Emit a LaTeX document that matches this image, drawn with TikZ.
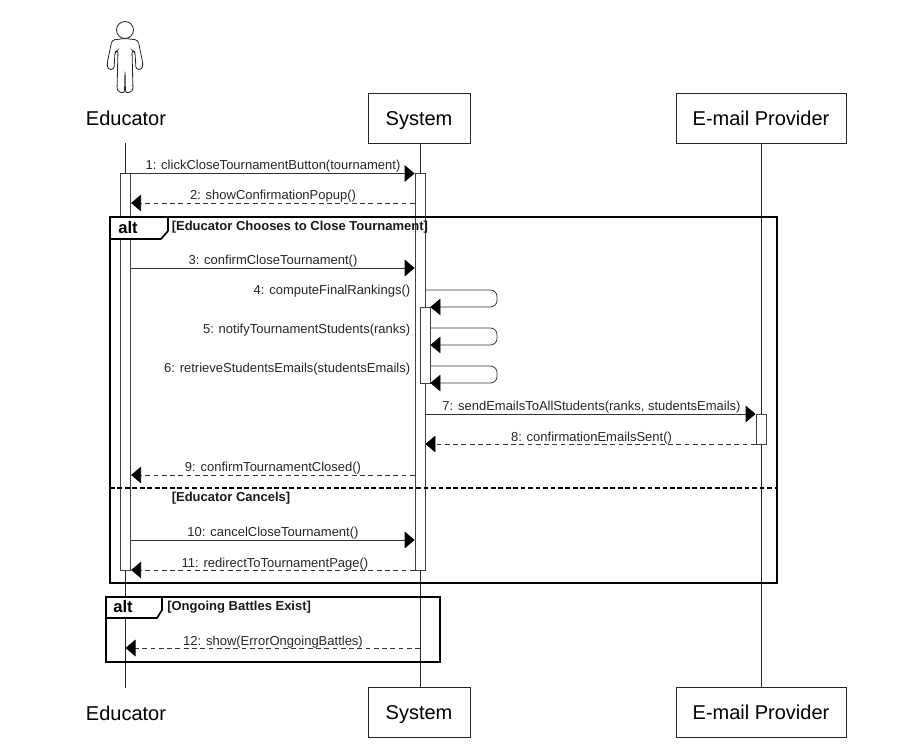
\documentclass[tikz,border=0pt]{standalone}
\usepackage{fontspec}
\setmainfont{Liberation Sans}
\usetikzlibrary{arrows.meta}
\tikzset{
 x=0.75pt,y=-0.75pt,
 actorbox/.style={draw=black!85,line width=0.6pt,fill=white,minimum width=76.5pt,minimum height=37pt,inner sep=0pt,text height=10.8pt,text depth=1pt,font=\fontsize{15}{17}\selectfont},
 actorbare/.style={inner sep=0pt,font=\fontsize{15}{17}\selectfont},
 life/.style={draw=black!85,line width=0.6pt},
 activation/.style={draw=black!75,line width=0.6pt,fill=white,inner sep=0pt,minimum width=7.5pt},
 sync/.style={draw=black!80,line width=0.6pt,-{Triangle[length=7.5pt,width=12.5pt,color=black,fill=black]}},
 reply/.style={sync,dash pattern=on 3.6pt off 2.6pt},
 msg/.style={inner sep=0pt,font=\fontsize{9.75}{11}\selectfont,text=black!85,anchor=base},
 frame/.style={draw=black,line width=1.3pt},
 framedash/.style={draw=black,line width=1.3pt,dash pattern=on 3.6pt off 2pt},
 tabtext/.style={inner sep=0pt,font=\bfseries\fontsize{12.5}{14}\selectfont,anchor=base},
 guard/.style={inner sep=0pt,font=\bfseries\fontsize{9.75}{11}\selectfont,anchor=base west,text=black!90},
}
\begin{document}
\begin{tikzpicture}
\useasboundingbox (0,0) rectangle (898,748);
% coordinates
\coordinate (eduTop) at (125.5,143);
\coordinate (eduBot) at (125.5,688);
\coordinate (sysTop) at (420,143);
\coordinate (sysBot) at (420,688);
\coordinate (mailTop) at (761,143);
\coordinate (mailBot) at (761,688);
% lifelines
\draw[life] (eduTop) -- (eduBot);
\draw[life] (sysTop) -- (sysBot);
\draw[life] (mailTop) -- (mailBot);
% heads
\node[actorbare] (eduHead) at (126,118) {Educator};
\node[actorbox] (sysHead) at (419,118.5) {System};
\node[actorbox,minimum width=127.5pt] (mailHead) at (761,118.5) {E-mail Provider};
\node[actorbare] (eduFoot) at (126,713) {Educator};
\node[actorbox] (sysFoot) at (419,712.5) {System};
\node[actorbox,minimum width=127.5pt] (mailFoot) at (761,712.5) {E-mail Provider};
% actor icon
\draw[black!85,line width=0.6pt] (125,30) circle (8.5);
\draw[black!85,line width=0.6pt,rounded corners=2.2pt]
 (125,38.5) -- (138,40) -- (143,64) -- (142,69.5) -- (136,69.5) -- (135,52) -- (132,50) -- (133,91) -- (125.5,93.5) -- (125,70)
 -- (124.5,93.5) -- (117,91) -- (118,50) -- (115,52) -- (114,69.5) -- (108,69.5) -- (107,64) -- (112,40) -- cycle;
% activations
\node[activation,minimum height=297.75pt] (actE) at (125.7,371.5) {};
\node[activation,minimum height=297.75pt] (actS) at (420,371.5) {};
\node[activation,minimum height=57pt] (actS2) at (425,345) {};
\node[activation,minimum height=22.5pt] (actM) at (761,429) {};
% frames
\draw[frame] (110,217) rectangle (777,583);
\draw[frame,fill=white,rounded corners=0.5pt] (110,217) -- (168,217) -- (168,231) -- (161,239) -- (110,239) -- cycle;
\node[tabtext] at (128,234) {alt};
\node[guard] at (171.5,230.7) {[Educator Chooses to Close Tournament]};
\draw[framedash] (110,488) -- (777,488);
\node[guard] at (171.5,501) {[Educator Cancels]};
\draw[frame] (106,597) rectangle (440,662);
\draw[frame,fill=white] (106,597) -- (162,597) -- (162,610) -- (157,618) -- (106,618) -- cycle;
\node[tabtext] at (123,612.5) {alt};
\node[guard] at (167,610.5) {[Ongoing Battles Exist]};
% messages
\draw[sync] (actE.east |- 0,173.5) -- (actS.west |- 0,173.5);
\draw[black!80,line width=0.6pt] (actE.west |- 0,173.5) -- (actE.east |- 0,173.5);
\node[msg] at (273,170) {1: clickCloseTournamentButton(tournament)};
\draw[reply] (actS.west |- 0,203) -- (actE.east |- 0,203);
\node[msg] at (273,200) {2: showConfirmationPopup()};
\draw[sync] (actE.east |- 0,268) -- (actS.west |- 0,268);
\node[msg] at (273,265) {3: confirmCloseTournament()};
\node[msg,anchor=base east] at (410.5,295) {4: computeFinalRankings()};
\draw[sync,rounded corners=5pt] (actS.east |- 0,290) -- (497,290) -- (497,307) -- (actS2.east |- 0,307);
\node[msg,anchor=base east] at (410.5,333.5) {5: notifyTournamentStudents(ranks)};
\draw[sync,rounded corners=5pt] (actS2.east |- 0,328) -- (497,328) -- (497,345) -- (actS2.east |- 0,345);
\node[msg,anchor=base east] at (410.5,372) {6: retrieveStudentsEmails(studentsEmails)};
\draw[sync,rounded corners=5pt] (actS2.east |- 0,366) -- (497,366) -- (497,383) -- (actS2.east |- 0,383);
\draw[sync] (actS.east |- 0,414) -- (actM.west |- 0,414);
\node[msg] at (591.5,410.5) {7: sendEmailsToAllStudents(ranks, studentsEmails)};
\draw[reply] (actM.west |- 0,444) -- (actS.east |- 0,444);
\node[msg] at (591.5,441) {8: confirmationEmailsSent()};
\draw[reply] (actS.west |- 0,475) -- (actE.east |- 0,475);
\node[msg] at (273,471.5) {9: confirmTournamentClosed()};
\draw[sync] (actE.east |- 0,540) -- (actS.west |- 0,540);
\node[msg] at (273,536) {10: cancelCloseTournament()};
\draw[reply] (actS.west |- 0,570) -- (actE.east |- 0,570);
\node[msg] at (275,567) {11: redirectToTournamentPage()};
\draw[reply] (sysBot |- 0,648) -- (eduBot |- 0,648);
\node[msg] at (273,645) {12: show(ErrorOngoingBattles)};
\end{tikzpicture}
\end{document}
